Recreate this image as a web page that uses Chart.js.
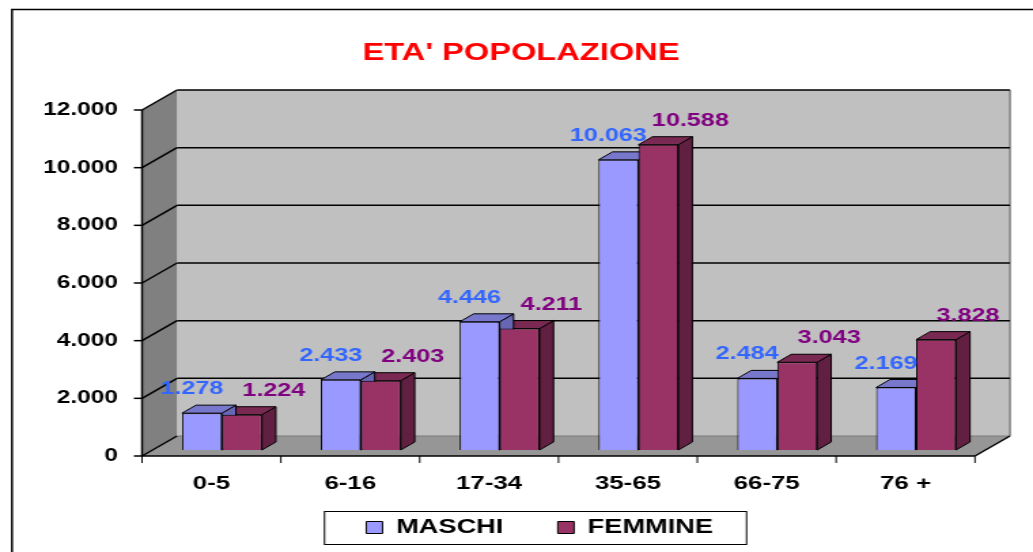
<!DOCTYPE html>
<html><head><meta charset="utf-8">
<script src="https://cdn.jsdelivr.net/npm/chart.js@4"></script>
<style>html,body{margin:0;padding:0;background:#fff;overflow:hidden}canvas{display:block}</style>
</head><body>
<canvas id="c" width="760" height="552" style="width:1033px;height:552px"></canvas>
<script>
// ---- data ----
const categories = ['0-5', '6-16', '17-34', '35-65', '66-75', '76 +'];
const maschi = [1278, 2433, 4446, 10063, 2484, 2169];
const femmine = [1224, 2403, 4211, 10588, 3043, 3828];
const seriesNames = ['MASCHI', 'FEMMINE'];
const yTickValues = [0, 2000, 4000, 6000, 8000, 10000, 12000];
const titleText = "ETA' POPOLAZIONE";

// ---- styles ----
const FONT = "'Liberation Sans', Arial, sans-serif";
const seriesStyle = [
  {front: '#9999ff', top: '#7777cc', side: '#6666b3', label: '#3366ff', labelShift: -7.4},
  {front: '#993366', top: '#7a2952', side: '#612041', label: '#800080', labelShift: 23.5}
];
const DEPTH = {dx: 25.75, dy: -20};   // wall depth
const FRONT = 0.3, BACK = 0.7;        // bars sit between these depth fractions
const TITLE_CX = 383.3, LEGEND_CX = 397, LEGEND_CY = 527.5;
const fmt = v => String(v).replace(/\B(?=(\d{3})+(?!\d))/g, '.');

function poly(ctx, pts, fill, stroke, lw) {
  ctx.beginPath();
  pts.forEach((p, i) => i ? ctx.lineTo(p[0], p[1]) : ctx.moveTo(p[0], p[1]));
  ctx.closePath();
  if (fill) { ctx.fillStyle = fill; ctx.fill(); }
  if (stroke) { ctx.strokeStyle = stroke; ctx.lineWidth = lw || 1; ctx.stroke(); }
}
function line(ctx, ax, ay, bx, by, color, lw) {
  ctx.beginPath(); ctx.moveTo(ax, ay); ctx.lineTo(bx, by);
  ctx.strokeStyle = color; ctx.lineWidth = lw || 1.5; ctx.stroke();
}

const threeD = {
  id: 'threeD',
  afterLayout(chart) {
    const t = chart.titleBlock;
    if (t) { const d = TITLE_CX - (t.left + t.right) / 2; t.left += d; t.right += d; }
    const lg = chart.legend;
    if (lg) {
      const d = LEGEND_CX - (lg.left + lg.right) / 2;
      const fs = lg.options.labels.font.size;
      const e = LEGEND_CY - (lg.top + lg.options.labels.padding + fs / 2);
      lg.left += d; lg.right += d; lg.top += e;
      lg.bottom = chart.height; lg.height = lg.bottom - lg.top;
    }
  },
  beforeDatasetsDraw(chart) {
    const {ctx, chartArea: a, scales: {x, y}} = chart;
    const dx = DEPTH.dx, dy = DEPTH.dy;
    const x0 = a.left, x1 = a.right;
    const yT = y.getPixelForValue(yTickValues[yTickValues.length - 1]);
    const yB = y.getPixelForValue(0);
    ctx.save();
    // outer frame
    ctx.strokeStyle = '#000'; ctx.lineWidth = 1.5;
    ctx.strokeRect(8.8, 9.5, 800, 600);
    // walls
    poly(ctx, [[x0 + dx, yT + dy], [x1 + dx, yT + dy], [x1 + dx, yB + dy], [x0 + dx, yB + dy]], '#c0c0c0');
    poly(ctx, [[x0, yB], [x0, yT], [x0 + dx, yT + dy], [x0 + dx, yB + dy]], '#808080');
    poly(ctx, [[x0, yB], [x1, yB], [x1 + dx, yB + dy], [x0 + dx, yB + dy]], '#969696');
    line(ctx, x1 + dx, yT + dy, x1 + dx, yB + dy, '#808080', 1.5);
    // gridlines + y ticks
    yTickValues.forEach(v => {
      const py = y.getPixelForValue(v);
      if (v !== 0) line(ctx, x0 + dx, py + dy, x1 + dx, py + dy, '#000', 1.5);
      else line(ctx, x0 + dx, py + dy, x1 + dx, py + dy, '#7a7a7a', 1);
      line(ctx, x0, py, x0 + dx, py + dy, '#000', 1.5);
      line(ctx, x0 - 6, py, x0, py, '#000', 1.5);
    });
    // axes
    line(ctx, x0, yT, x0, yB, '#000', 1.5);
    line(ctx, x0, yB, x1, yB, '#000', 1.5);
    line(ctx, x1, yB, x1 + dx, yB + dy, '#000', 1.5);
    // x ticks at category boundaries
    const n = categories.length;
    for (let i = 0; i <= n; i++) {
      const bx = x0 + (x1 - x0) * i / n;
      line(ctx, bx, yB, bx, yB + 7, '#000', 1);
    }
    ctx.restore();

    // bar tops / sides (behind the library-drawn fronts)
    const tx = dx * FRONT, ty = dy * FRONT;
    const ddx = dx * (BACK - FRONT), ddy = dy * (BACK - FRONT);
    ctx.save();
    ctx.translate(tx, ty);
    ctx.lineJoin = 'round';
    const metas = chart.data.datasets.map((d, i) => chart.getDatasetMeta(i));
    for (let c = 0; c < n; c++) {
      const order = metas.map((m, i) => i).sort((i, j) =>
        chart.data.datasets[i].data[c] - chart.data.datasets[j].data[c]);
      order.forEach(di => {
        const bar = metas[di].data[c];
        const st = seriesStyle[di];
        const l = bar.x - bar.width / 2, r = bar.x + bar.width / 2;
        poly(ctx, [[r, bar.y], [r + ddx, bar.y + ddy], [r + ddx, bar.base + ddy], [r, bar.base]], st.side, '#000', 1);
        poly(ctx, [[l, bar.y], [r, bar.y], [r + ddx, bar.y + ddy], [l + ddx, bar.y + ddy]], st.top, '#000', 1);
      });
    }
    // translation kept for the library's own bar fronts
  },
  afterDatasetsDraw(chart) {
    const {ctx, scales: {y}} = chart;
    ctx.restore();
    const tx = DEPTH.dx * FRONT, ty = DEPTH.dy * FRONT;
    ctx.save();
    ctx.font = 'bold 18.5px ' + FONT;
    ctx.textAlign = 'center'; ctx.textBaseline = 'middle';
    chart.data.datasets.forEach((ds, di) => {
      const meta = chart.getDatasetMeta(di);
      ctx.fillStyle = seriesStyle[di].label;
      ds.data.forEach((v, i) => {
        const bar = meta.data[i];
        ctx.fillText(fmt(v), bar.x + tx + seriesStyle[di].labelShift, y.getPixelForValue(v) + ty - 24);
      });
    });
    ctx.restore();
  },
  afterDraw(chart) {
    const {ctx} = chart;
    const lg = chart.legend;
    if (!lg) return;
    const cx = (lg.left + lg.right) / 2;
    const cy = lg.top + lg.options.labels.padding + lg.options.labels.font.size / 2;
    const w = 310.5;
    ctx.save();
    ctx.strokeStyle = '#000'; ctx.lineWidth = 1;
    ctx.strokeRect(cx - 3 - w / 2, cy - 16, w, 33);
    ctx.restore();
  }
};

Chart.defaults.font.family = FONT;
Chart.defaults.font.weight = 'bold';
Chart.defaults.color = '#000';

new Chart(document.getElementById('c'), {
  type: 'bar',
  data: {
    labels: categories,
    datasets: [
      {label: seriesNames[0], data: maschi, backgroundColor: seriesStyle[0].front, borderColor: '#000', borderWidth: 1, clip: false},
      {label: seriesNames[1], data: femmine, backgroundColor: seriesStyle[1].front, borderColor: '#000', borderWidth: 1, clip: false}
    ]
  },
  options: {
    responsive: false,
    animation: false,
    devicePixelRatio: 1,
    datasets: {bar: {categoryPercentage: 0.5755, barPercentage: 1.0}},
    layout: {padding: {left: 10, right: 42.7, top: 0, bottom: 0}},
    scales: {
      x: {
        grid: {display: false, drawTicks: false},
        border: {display: false},
        ticks: {padding: 16, color: '#000', font: {size: 19, weight: 'bold'}},
        afterFit: s => { s.height = 45; }
      },
      y: {
        min: yTickValues[0],
        max: yTickValues[yTickValues.length - 1],
        grid: {display: false, drawTicks: false},
        border: {display: false},
        ticks: {stepSize: yTickValues[1] - yTickValues[0], padding: 17.7, color: '#000',
                font: {size: 18, weight: 'bold'}, callback: v => fmt(v)},
        afterFit: s => { s.width = 94.5; }
      }
    },
    plugins: {
      title: {display: true, text: titleText, color: '#ff0000',
              font: {size: 24, weight: 'bold'}, padding: {top: 38.6, bottom: 42.6}},
      legend: {position: 'bottom', maxHeight: 51,
               labels: {boxWidth: 12, boxHeight: 12, padding: 40, color: '#000',
                        font: {size: 20, weight: 'bold'}}},
      tooltip: {enabled: false}
    }
  },
  plugins: [threeD]
});
</script>
</body></html>
